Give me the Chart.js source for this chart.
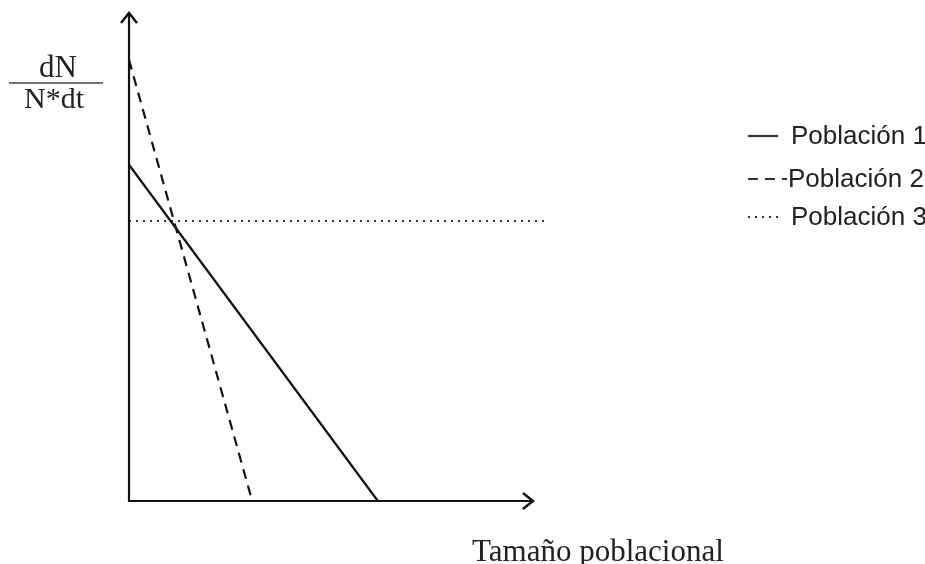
<!DOCTYPE html>
<html>
<head>
<meta charset="utf-8">
<script src="https://cdn.jsdelivr.net/npm/chart.js@4.4.0/dist/chart.umd.min.js"></script>
<style>
  html, body { margin: 0; padding: 0; background: #fff; }
  #wrap { width: 925px; height: 564px; }
</style>
</head>
<body>
<div id="wrap"><canvas id="plot1" width="925" height="564"></canvas></div>
<script>
// data (arbitrary units, x: population size, y: per-capita growth rate)
const labels = ["Población 1", "Población 2", "Población 3"];
const pob1 = [{ x: 0, y: 68.9 }, { x: 59.4, y: 0 }];
const pob2 = [{ x: 0, y: 90.4 }, { x: 29.4, y: 0 }];
const pob3 = [{ x: 0, y: 57.4 }, { x: 100, y: 57.4 }];
const xArrowEnd = 96.4;
const yArrowEnd = 100;
const xTitle = "Tamaño poblacional";
const yTitleTop = "dN";
const yTitleBottom = "N*dt";

const axesPlugin = {
    id: "axes",
    afterDatasetsDraw(chart) {
        const ctx = chart.ctx;
        const xs = chart.scales.x;
        const ys = chart.scales.y;
        const x0 = xs.getPixelForValue(0);
        const y0 = ys.getPixelForValue(0);
        const xe = xs.getPixelForValue(xArrowEnd);
        const ye = ys.getPixelForValue(yArrowEnd);

        ctx.save();
        ctx.strokeStyle = "#111";
        ctx.lineWidth = 2.2;
        ctx.setLineDash([]);
        ctx.beginPath();
        ctx.moveTo(x0, ye);
        ctx.lineTo(x0, y0);
        ctx.lineTo(xe, y0);
        ctx.stroke();

        // arrow heads
        ctx.lineWidth = 2.5;
        ctx.beginPath();
        ctx.moveTo(x0 - 8, ye + 10);
        ctx.lineTo(x0, ye);
        ctx.lineTo(x0 + 8, ye + 10);
        ctx.moveTo(xe - 10, y0 - 8);
        ctx.lineTo(xe, y0);
        ctx.lineTo(xe - 10, y0 + 8);
        ctx.stroke();

        // axis titles
        ctx.fillStyle = "#222";
        ctx.font = "31px 'Liberation Serif', 'Times New Roman', serif";
        ctx.textBaseline = "alphabetic";
        ctx.textAlign = "center";
        ctx.fillText(yTitleTop, 58, 77);
        ctx.font = "30px 'Liberation Serif', 'Times New Roman', serif";
        ctx.fillText(yTitleBottom, 54, 108);
        ctx.strokeStyle = "#444";
        ctx.lineWidth = 1.5;
        ctx.beginPath();
        ctx.moveTo(9, 83);
        ctx.lineTo(103, 83);
        ctx.stroke();

        ctx.font = "31px 'Liberation Serif', 'Times New Roman', serif";
        ctx.textAlign = "left";
        ctx.fillText(xTitle, 472, 561);

        // legend
        const rows = [136, 179, 217];
        ctx.font = "26px 'Liberation Sans', Arial, sans-serif";
        ctx.textBaseline = "middle";
        chart.data.datasets.forEach((ds, i) => {
            const y = rows[i];
            ctx.strokeStyle = "#333";
            ctx.lineWidth = ds.borderWidth;
            ctx.setLineDash(ds.borderDash || []);
            ctx.beginPath();
            ctx.moveTo(748, y);
            ctx.lineTo(i === 1 ? 787 : 778, y);
            ctx.stroke();
            ctx.fillStyle = "#222";
            ctx.fillText(ds.label, i === 1 ? 788 : 791, y + 1);
        });
        ctx.restore();
    }
};

new Chart(document.getElementById("plot1"), {
    type: "line",
    data: {
        datasets: [
            {
                label: labels[0],
                data: pob1,
                borderColor: "#111",
                borderWidth: 2.2,
                pointRadius: 0,
                clip: false
            },
            {
                label: labels[1],
                data: pob2,
                borderColor: "#111",
                borderWidth: 2.2,
                borderDash: [10, 7],
                pointRadius: 0,
                clip: false
            },
            {
                label: labels[2],
                data: pob3,
                borderColor: "#333",
                borderWidth: 2,
                borderDash: [2, 5],
                pointRadius: 0,
                clip: false
            }
        ]
    },
    options: {
        responsive: false,
        animation: false,
        layout: {
            padding: { left: 129, right: 377, top: 13, bottom: 63 }
        },
        plugins: {
            legend: { display: false },
            tooltip: { enabled: false }
        },
        scales: {
            x: { type: "linear", min: 0, max: 100, display: false },
            y: { type: "linear", min: 0, max: 100, display: false }
        }
    },
    plugins: [axesPlugin]
});
</script>
</body>
</html>
